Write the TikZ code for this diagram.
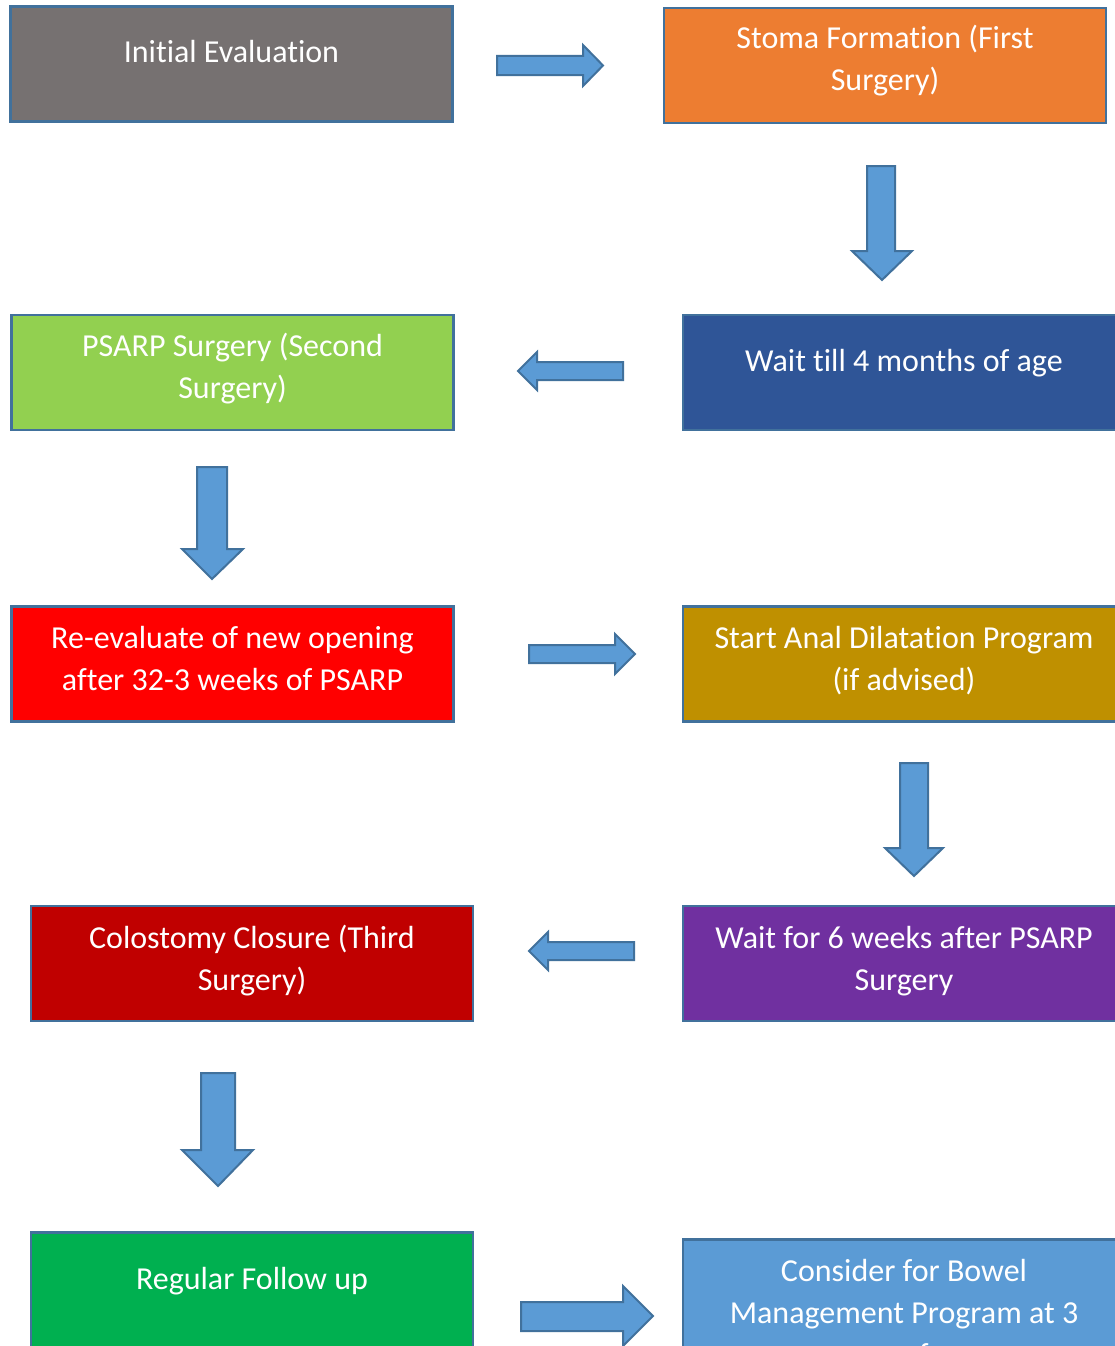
\documentclass[tikz,border=0pt]{standalone}
\usepackage{fontspec}
\setmainfont[Ligatures=NoCommon]{Carlito}
\definecolor{bordc}{HTML}{41719C}
\definecolor{arrc}{HTML}{5B9BD5}
\definecolor{cgray}{HTML}{767171}
\definecolor{corange}{HTML}{ED7D31}
\definecolor{clime}{HTML}{92D050}
\definecolor{cnavy}{HTML}{2F5597}
\definecolor{cred}{HTML}{FF0000}
\definecolor{cgold}{HTML}{BF9000}
\definecolor{cdred}{HTML}{C00000}
\definecolor{cpurple}{HTML}{7030A0}
\definecolor{cgreen}{HTML}{00B050}
\definecolor{cblue}{HTML}{5B9BD5}
\begin{document}
\begin{tikzpicture}[x=1pt,y=-1pt,
  flowbox/.style={draw=bordc,line width=2.5pt,rectangle,inner sep=0pt,minimum width=442pt,minimum height=115pt},
  boxtext/.style={text=white,align=center,anchor=base,inner sep=0pt,font=\fontsize{32}{42}\selectfont},
  blockarrow/.style={draw=bordc,fill=arrc,line width=2pt,line join=miter}]
\useasboundingbox (0,0) rectangle (1115,1346);
\clip (0,0) rectangle (1115,1346);
\fill[white] (0,0) rectangle (1115,1346);
% boxes (text nodes anchored at the baseline of their last line)
\node[flowbox,fill=cgray] (b1) at (231.5,64) {};
\node[boxtext] (t1) at (231.5,63) {Initial Evaluation};
\node[flowbox,fill=corange] (b2) at (885,65.5) {};
\node[boxtext] (t2) at (885,90) {Stoma Formation (First\\Surgery)};
\node[flowbox,fill=clime] (b3) at (232.5,372.5) {};
\node[boxtext] (t3) at (232.5,398) {PSARP Surgery (Second\\Surgery)};
\node[flowbox,fill=cnavy] (b4) at (904,372.5) {};
\node[boxtext] (t4) at (904,371) {Wait till 4 months of age};
\node[flowbox,fill=cred] (b5) at (232.5,664) {};
\node[boxtext] (t5) at (232.5,690) {Re-evaluate of new opening\\after 32-3 weeks of PSARP};
\node[flowbox,fill=cgold] (b6) at (904,664) {};
\node[boxtext] (t6) at (904,690) {Start Anal Dilatation Program\\(if advised)};
\node[flowbox,fill=cdred] (b7) at (252,963.5) {};
\node[boxtext] (t7) at (252,990) {Colostomy Closure (Third\\Surgery)};
\node[flowbox,fill=cpurple] (b8) at (904,963.5) {};
\node[boxtext] (t8) at (904,990) {Wait for 6 weeks after PSARP\\Surgery};
\node[flowbox,fill=cgreen] (b9) at (252,1290) {};
\node[boxtext] (t9) at (252,1289) {Regular Follow up};
\node[flowbox,fill=cblue] (b10) at (904,1297) {};
\node[boxtext] (t10) at (904,1365) {Consider for Bowel\\Management Program at 3\\years of age};
% block arrows
\draw[blockarrow] (497,56) -- (583,56) -- (583,45) -- (603,65.5) -- (583,86) -- (583,75) -- (497,75) -- cycle;
\draw[blockarrow] (867,166) -- (895,166) -- (895,251) -- (912,251) -- (882,280) -- (852,251) -- (867,251) -- cycle;
\draw[blockarrow] (623,362) -- (537,362) -- (537,352) -- (518,371) -- (537,390) -- (537,380) -- (623,380) -- cycle;
\draw[blockarrow] (197,467) -- (227,467) -- (227,549) -- (243,549) -- (212,579) -- (182,549) -- (197,549) -- cycle;
\draw[blockarrow] (529,645) -- (615,645) -- (615,634) -- (635,654) -- (615,674) -- (615,663) -- (529,663) -- cycle;
\draw[blockarrow] (900,763) -- (928,763) -- (928,848) -- (943,848) -- (914,876) -- (885,848) -- (900,848) -- cycle;
\draw[blockarrow] (634,942) -- (548,942) -- (548,932) -- (529,951) -- (548,970) -- (548,960) -- (634,960) -- cycle;
\draw[blockarrow] (201,1073) -- (235,1073) -- (235,1150) -- (253,1150) -- (218,1186) -- (182,1150) -- (201,1150) -- cycle;
\draw[blockarrow] (521,1302) -- (623,1302) -- (623,1286) -- (653,1316) -- (623,1346) -- (623,1331) -- (521,1331) -- cycle;
\end{tikzpicture}
\end{document}
